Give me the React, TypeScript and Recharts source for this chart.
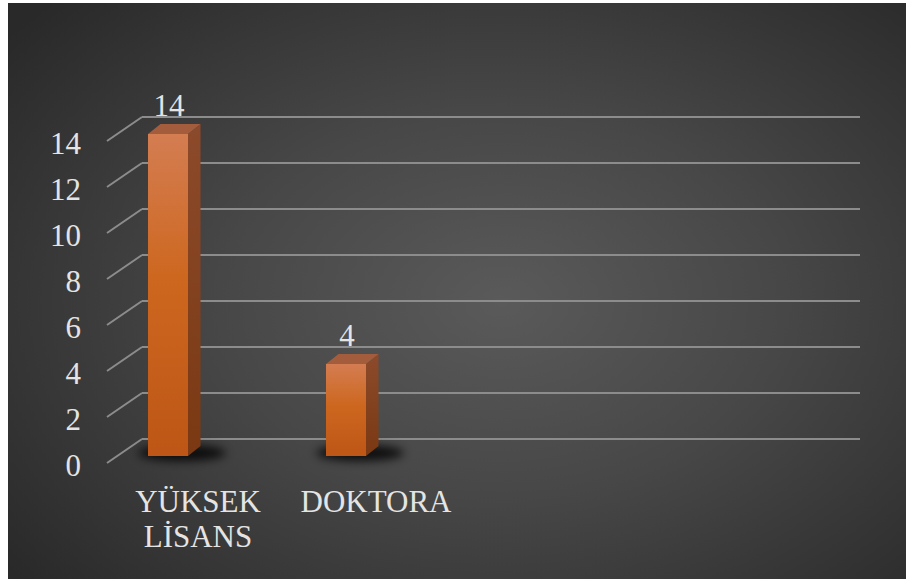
import { Bar, BarChart, CartesianGrid, LabelList, XAxis, YAxis } from "recharts";

const categories = ["YÜKSEK LİSANS", "DOKTORA"];
const counts = [14, 4];
const yTicks = [0, 2, 4, 6, 8, 10, 12, 14];

const data = categories.map((name, i) => ({ name, value: counts[i] }));

const FONT = "'Liberation Serif', serif";
const TEXT = "#e4e4e4";
const GRID = "#8c8c8c";
const SHIFT = -30; // perspective offset of the bars
const DX = 12.5;
const DY = 10;

function Bar3D(props: any) {
  const { x, y, width, height } = props;
  if (height == null || height <= 0) return null;
  const fx = x + SHIFT;
  const b = y + height;
  return (
    <g>
      <ellipse cx={fx + width / 2 + 14} cy={b - 3} rx={width / 2 + 24} ry={8} fill="#000" opacity={0.8} filter="url(#shadowBlur)" />
      <rect x={fx} y={y} width={width} height={height} fill="url(#frontGrad)" />
      <polygon points={`${fx + width},${y} ${fx + width + DX},${y - DY} ${fx + width + DX},${b - DY} ${fx + width},${b}`} fill="url(#sideGrad)" />
      <polygon points={`${fx},${y} ${fx + DX},${y - DY} ${fx + width + DX},${y - DY} ${fx + width},${y}`} fill="#a35d3c" />
    </g>
  );
}

function GridLine(props: any) {
  const { y1 } = props;
  return (
    <g key={props.key}>
      <line x1={99} y1={y1 + 7} x2={134} y2={y1 - 17} stroke={GRID} strokeWidth={2} />
      <line x1={134} y1={y1 - 17} x2={852} y2={y1 - 17} stroke={GRID} strokeWidth={2} />
    </g>
  );
}

function YTick({ y, payload }: any) {
  return (
    <text x={73} y={y + 9} dy="0.35em" textAnchor="end" fill={TEXT} style={{ fontSize: 31, fontFamily: FONT }}>
      {payload.value}
    </text>
  );
}

// wrap long category names onto two lines
function splitLabel(s: string) {
  const words = s.split(" ");
  const lines: string[] = [];
  words.forEach((w) => {
    const last = lines[lines.length - 1];
    if (last && (last + " " + w).length <= 10) lines[lines.length - 1] = last + " " + w;
    else lines.push(w);
  });
  return lines;
}

function XTick({ x, y, payload }: any) {
  const lines = splitLabel(String(payload.value));
  return (
    <text x={x} y={y + 48} textAnchor="middle" fill={TEXT} style={{ fontSize: 31, fontFamily: FONT }}>
      {lines.map((l, i) => (
        <tspan key={i} x={x} dy={i === 0 ? 0 : 35}>
          {l}
        </tspan>
      ))}
    </text>
  );
}

function ValueLabel(props: any) {
  const { x, y, width, value } = props;
  return (
    <text x={x + SHIFT + width / 2 + 1} y={y - 18} textAnchor="middle" fill={TEXT} style={{ fontSize: 31, fontFamily: FONT }}>
      {value}
    </text>
  );
}

export default function App() {
  return (
    <div
      style={{
        position: "absolute",
        left: 8,
        top: 3,
        width: 898,
        height: 576,
        background: "radial-gradient(ellipse 70% 75% at 55% 52%, #5a5a5a 0%, #474747 45%, #292929 100%)",
      }}
    >
      <BarChart width={898} height={576} data={data} margin={{ top: 131, right: 441, bottom: 63, left: 21 }} barSize={40}>
        <defs>
          <linearGradient id="frontGrad" x1="0" y1="0" x2="0" y2="1">
            <stop offset="0%" stopColor="#d47d52" />
            <stop offset="45%" stopColor="#cd671f" />
            <stop offset="100%" stopColor="#bd5616" />
          </linearGradient>
          <linearGradient id="sideGrad" x1="0" y1="0" x2="0" y2="1">
            <stop offset="0%" stopColor="#8c4a2c" />
            <stop offset="100%" stopColor="#7a3912" />
          </linearGradient>
          <filter id="shadowBlur" x="-50%" y="-200%" width="200%" height="500%">
            <feGaussianBlur stdDeviation="5" />
          </filter>
        </defs>
        <CartesianGrid vertical={false} horizontal={(p: any) => <GridLine {...p} />} />
        <YAxis domain={[0, 14]} ticks={yTicks} width={80} axisLine={false} tickLine={false} tick={<YTick />} interval={0} />
        <XAxis dataKey="name" height={60} axisLine={false} tickLine={false} tick={<XTick />} interval={0} />
        <Bar dataKey="value" shape={<Bar3D />} isAnimationActive={false}>
          <LabelList dataKey="value" content={<ValueLabel />} />
        </Bar>
      </BarChart>
    </div>
  );
}
